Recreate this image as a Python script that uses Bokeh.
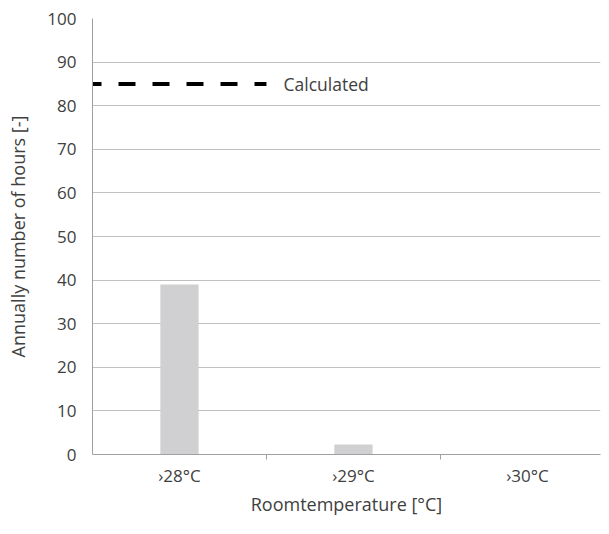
from bokeh.plotting import figure
from bokeh.models import Range1d, FixedTicker, ColumnDataSource
from bokeh.core.properties import value
from bokeh.embed import file_html
from bokeh.resources import INLINE

categories = ["›28°C", "›29°C", "›30°C"]
hours = [39, 2.3, 0]
calculated = 85
calc_label = "Calculated"
y_ticks = [0, 10, 20, 30, 40, 50, 60, 70, 80, 90, 100]

FONT = "Open Sans"
TXT = "#404040"

x_pos = [i + 0.5 for i in range(len(categories))]

p = figure(width=601, height=518, output_backend="svg", toolbar_location=None,
           x_range=Range1d(0, 2.92), y_range=Range1d(0, 100),
           min_border_left=92, min_border_right=1, min_border_top=18, min_border_bottom=60)
p.outline_line_color = None
p.background_fill_color = "white"
p.border_fill_color = "white"

src = ColumnDataSource(dict(x=x_pos, top=hours))
p.vbar(x="x", top="top", width=0.22, source=src, fill_color="#d0d0d2", line_color=None)

p.line(x=[0, 1.0], y=[calculated, calculated], line_color="black", line_width=4,
       line_dash="17 17", line_dash_offset=8)
p.text(x=[1.098], y=[calculated], text=[calc_label], text_font=value(FONT),
       text_font_size="17.5px", text_color=TXT, text_baseline="middle", text_align="left")

# x axis
xt = FixedTicker(ticks=x_pos, minor_ticks=[1, 2])
p.xaxis.ticker = xt
p.xaxis.major_label_overrides = {x: c for x, c in zip(x_pos, categories)}
p.xaxis.major_tick_line_color = None
p.xaxis.minor_tick_line_color = "#a0a0a0"
p.xaxis.minor_tick_out = 5
p.xaxis.minor_tick_in = 0
p.xaxis.axis_line_color = "#a0a0a0"
p.xaxis.major_label_standoff = 3
p.xaxis.axis_label = "Roomtemperature [°C]"
p.xaxis.axis_label_standoff = 2
p.xgrid.grid_line_color = None

# y axis
p.yaxis.ticker = FixedTicker(ticks=y_ticks)
p.yaxis.major_tick_line_color = None
p.yaxis.minor_tick_line_color = None
p.yaxis.axis_line_color = "#a0a0a0"
p.yaxis.major_label_standoff = 10
p.yaxis.axis_label = "Annually number of hours [-]"
p.yaxis.axis_label_standoff = 14
p.ygrid.grid_line_color = "#c0c0c0"
p.ygrid.grid_line_width = 1

for ax in (p.xaxis, p.yaxis):
    ax.major_label_text_font = FONT
    ax.major_label_text_font_size = "17px"
    ax.major_label_text_color = TXT
    ax.axis_label_text_font = FONT
    ax.axis_label_text_font_size = "18px"
    ax.axis_label_text_font_style = "normal"
    ax.axis_label_text_color = TXT

open("out.html", "w").write(file_html(p, INLINE))
